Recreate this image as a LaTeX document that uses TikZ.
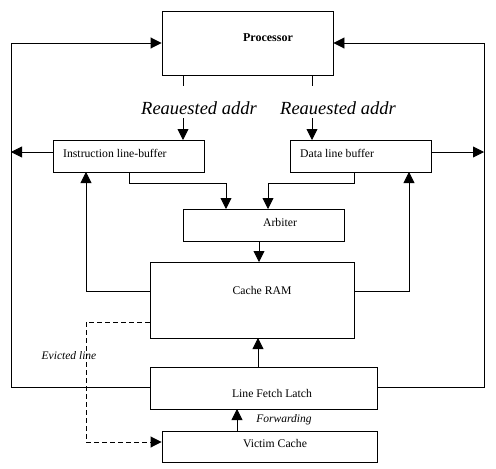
\documentclass[tikz,border=0pt]{standalone}
\usepackage{fontspec}
\setmainfont{Liberation Serif}
\usetikzlibrary{arrows.meta}
\begin{document}
\begin{tikzpicture}[x=1pt,y=-1pt,
  blk/.style={draw,line width=0.9pt,inner sep=0pt},
  ln/.style={line width=0.9pt},
  arr/.style={line width=0.9pt,-{Triangle[length=11pt,width=11pt]}},
  darr/.style={line width=0.9pt,dashed,dash pattern=on 5pt off 3pt,-{Triangle[length=11pt,width=11pt]}},
  lbl/.style={font=\fontsize{11.7}{13}\selectfont,inner sep=0pt},
  ilbl/.style={font=\fontsize{11.5}{13}\selectfont\itshape,inner sep=0pt},
  big/.style={font=\fontsize{18.5}{21}\selectfont\itshape,inner sep=0pt}]
\useasboundingbox (0,0) rectangle (496,469);
% boxes
\node[blk,minimum width=171pt,minimum height=64pt] (proc) at (247.5,43) {};
\node[lbl,font=\fontsize{12}{14}\selectfont\bfseries] (proct) at (268,38) {Processor};
\node[blk,minimum width=151pt,minimum height=32pt] (ib) at (128.5,156) {};
\node[lbl,anchor=west] (ibt) at (63,153) {Instruction line-buffer};
\node[blk,minimum width=141pt,minimum height=32pt] (db) at (360.5,156) {};
\node[lbl,anchor=west] (dbt) at (300,153) {Data line buffer};
\node[blk,minimum width=161pt,minimum height=32pt] (arb) at (263.5,225) {};
\node[lbl] (arbt) at (280,222) {Arbiter};
\node[blk,minimum width=204pt,minimum height=76pt] (ram) at (252,300) {};
\node[lbl] (ramt) at (262,290) {Cache RAM};
\node[blk,minimum width=227pt,minimum height=42pt] (lfl) at (263.5,388) {};
\node[lbl] (lflt) at (272,393) {Line Fetch Latch};
\node[blk,minimum width=215pt,minimum height=31pt] (vc) at (269.5,446.5) {};
\node[lbl] (vct) at (275,444) {Victim Cache};
% labels
\node[big] (ra1) at (199,108) {Reauested addr};
\node[big] (ra2) at (338,108) {Reauested addr};
\node[ilbl] (fw) at (284,420) {Forwarding};
\node[ilbl] (ev) at (69,356) {Evicted line};
% coordinates
\coordinate (lt) at (11,43);
\coordinate (lb) at (11,387);
\coordinate (rt) at (484,43);
\coordinate (rb) at (484,387);
% processor outputs
\draw[ln] (183,75) -- (183,86);
\draw[ln] (312,75) -- (312,86);
\draw[arr] (183,118) -- (183,140);
\draw[arr] (312,118) -- (312,140);
% outer loops
\draw[arr] (lfl.west |- lb) -- (lb) -- (lt) -- (proc.west |- lt);
\draw[arr] (lfl.east |- rb) -- (rb) -- (rt) -- (proc.east |- rt);
\draw[arr] (ib.west |- 0,152) -- (11,152);
\draw[arr] (db.east |- 0,152) -- (484,152);
% buffers to arbiter
\draw[arr] (129,172) -- (129,183) -- (226,183) -- (226,209);
\draw[arr] (354,172) -- (354,183) -- (268,183) -- (268,209);
% arbiter to ram
\draw[arr] (259,241) -- (259,262);
% ram to buffers
\draw[arr] (ram.west |- 0,291) -- (86,291) -- (86,172);
\draw[arr] (ram.east |- 0,291) -- (409,291) -- (409,172);
% lfl to ram
\draw[arr] (258,367) -- (258,338);
% victim to lfl
\draw[arr] (237,431) -- (237,409);
% evicted
\draw[darr] (ram.west |- 0,322) -- (86,322) -- (86,442) -- (vc.west |- 0,442);
\end{tikzpicture}
\end{document}
